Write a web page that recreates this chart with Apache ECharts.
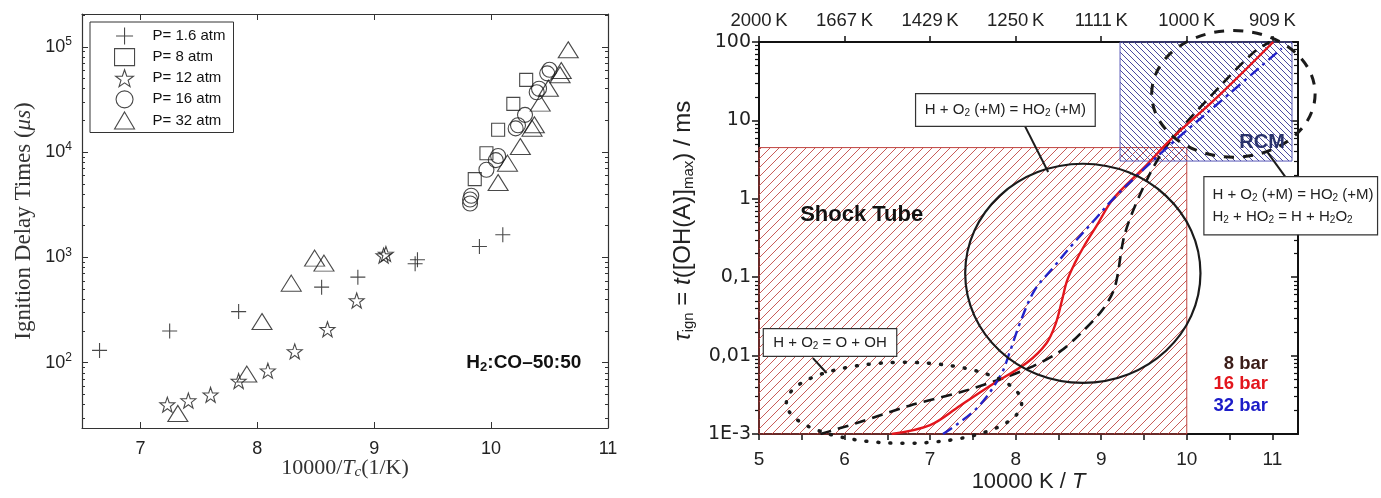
<!DOCTYPE html>
<html>
<head>
<meta charset="utf-8">
<script src="https://cdn.jsdelivr.net/npm/echarts@6/dist/echarts.min.js"></script>
<style>
  html, body { margin: 0; padding: 0; background: #fff; }
  #main { width: 1381px; height: 498px; }
</style>
</head>
<body>
<div id="main"></div>
<script>
// ---- left panel: ignition delay of H2:CO 50:50 (x = 10000/Tc, y = us) ----
const p1_6 = [[6.65, 131], [7.25, 200], [7.84, 306], [8.55, 522], [8.86, 650], [9.35, 870], [9.37, 950], [9.90, 1270], [10.10, 1640]];
const p8 = [[9.86, 5540], [9.96, 9770], [10.06, 16300], [10.19, 28700], [10.30, 48600]];
const p12 = [[7.23, 40], [7.41, 43.7], [7.60, 49.6], [7.84, 67], [8.09, 84], [8.32, 128], [8.60, 208], [8.85, 390], [9.08, 1040], [9.10, 1080]];
const p16 = [[9.82, 3250], [9.82, 3550], [9.83, 3850], [9.96, 6800], [10.04, 8400], [10.06, 9200], [10.21, 16800], [10.23, 18000], [10.29, 22600], [10.39, 37000], [10.41, 40000], [10.48, 56000], [10.50, 60500]];
const p32 = [[7.32, 33], [7.91, 78], [8.04, 246], [8.29, 570], [8.49, 985], [8.57, 883], [10.06, 5140], [10.14, 7860], [10.25, 11300], [10.35, 16900], [10.37, 18200], [10.42, 29200], [10.49, 40500], [10.59, 54200], [10.60, 59500], [10.66, 93700]];
const leftNames = ['P= 1.6 atm', 'P= 8 atm', 'P= 12 atm', 'P= 16 atm', 'P= 32 atm'];
const leftXTicks = [7, 8, 9, 10, 11];
const leftYTicks = [100, 1000, 10000, 100000];

// ---- right panel: tau_ign vs 10000 K / T (ms) ----
const bar8 = [[5.72, 0.001], [6.18, 0.00142], [6.76, 0.0023], [7.35, 0.0034], [7.82, 0.005], [8.2, 0.0073], [8.52, 0.0113], [8.77, 0.0197], [9.02, 0.039], [9.16, 0.075], [9.28, 0.37], [9.55, 1.9], [9.8, 5.3], [10.46, 33], [10.79, 75], [10.97, 100]];
const bar16 = [[6.55, 0.001], [7.0, 0.0013], [7.35, 0.0023], [7.73, 0.0043], [8.13, 0.0081], [8.36, 0.0144], [8.47, 0.026], [8.54, 0.05], [8.6, 0.09], [8.69, 0.15], [8.8, 0.25], [8.96, 0.48], [9.14, 1.0], [9.5, 2.5], [9.82, 5.8], [10.4, 22], [11.01, 100]];
const bar32 = [[7.15, 0.001], [7.54, 0.0021], [7.82, 0.0055], [7.93, 0.011], [8.05, 0.026], [8.22, 0.068], [8.44, 0.133], [8.65, 0.25], [8.91, 0.52], [9.14, 1.0], [9.5, 2.4], [9.86, 5.5], [10.5, 22], [11.11, 83]];
const shockTubeX = [5, 10];
const shockTubeY = [0.001, 4.5];
const rcmX = [9.22, 11.23];
const rcmY = [3.03, 100];
const rightXTicks = [5, 6, 7, 8, 9, 10, 11];
const rightXMinor = [5, 5.5, 6, 6.5, 7, 7.5, 8, 8.5, 9, 9.5, 10, 10.5, 11];
const topLabels = ['2000\u2009K', '1667\u2009K', '1429\u2009K', '1250\u2009K', '1111\u2009K', '1000\u2009K', '909\u2009K'];
const rightYTicks = [0.001, 0.01, 0.1, 1, 10, 100];
const rightYLabels = ['1E-3', '0,01', '0,1', '1', '10', '100'];

const ink = '#1b1b1b';

// minor log ticks 2..9 x 10^k
function logMinors(kFrom, kTo, lo, hi) {
  const out = [];
  for (let k = kFrom; k <= kTo; k++) {
    for (let m = 2; m <= 9; m++) {
      const v = +(m * Math.pow(10, k)).toPrecision(3);
      if (v >= lo && v <= hi) out.push(v);
    }
  }
  return out;
}

// diagonal hatch pattern
function hatch(size, color, dir) {
  const c = document.createElement('canvas');
  c.width = c.height = size;
  const g = c.getContext('2d');
  g.strokeStyle = color;
  g.lineWidth = 1;
  g.beginPath();
  for (let k = -1; k <= 1; k++) {
    if (dir > 0) { g.moveTo(k * size, size); g.lineTo(k * size + size, 0); }
    else { g.moveTo(k * size, 0); g.lineTo(k * size + size, size); }
  }
  g.stroke();
  return { image: c, repeat: 'repeat' };
}

const sameLog = (a, b) => Math.abs(Math.log10(a) - Math.log10(b)) < 1e-6;

const plusPath = 'path://M0,-10L0,10M-10,0L10,0';
const starPath = 'path://M0,-10L2.35,-3.24L9.51,-3.09L3.8,1.24L5.88,8.09L0,4L-5.88,8.09L-3.8,1.24L-9.51,-3.09L-2.35,-3.24Z';
const hollow = { color: 'rgba(0,0,0,0)', borderColor: ink, borderWidth: 1.1 };

const serif = 'Liberation Serif';
const sans = 'Liberation Sans';

const option = {
  animation: false,
  backgroundColor: '#fff',
  grid: [
    { left: 82, right: 773, top: 14, bottom: 70 },
    { left: 759, right: 83, top: 42, bottom: 59 }
  ],
  legend: {
    data: leftNames,
    orient: 'vertical',
    left: 90, top: 22,
    itemWidth: 20, itemHeight: 17, itemGap: 3,
    padding: [5, 8, 3, 24],
    borderColor: '#333', borderWidth: 1,
    selectedMode: false,
    itemStyle: { borderWidth: 1.1 },
    textStyle: { fontFamily: sans, fontSize: 15, color: '#111', padding: [0, 0, 0, 13] }
  },
  xAxis: [
    {
      gridIndex: 0, type: 'value', position: 'bottom', min: 6.5, max: 11,
      axisLine: { lineStyle: { color: '#333', width: 1.2 } },
      axisTick: { inside: true, length: 6, customValues: leftXTicks, lineStyle: { color: '#333' } },
      axisLabel: { customValues: leftXTicks, margin: 12, fontFamily: sans, fontSize: 18, color: '#222' },
      splitLine: { show: false },
      name: '10000/{i|T}{sub|c}(1/K)', nameLocation: 'middle', nameGap: 28, nameMoveOverlap: false,
      nameTextStyle: {
        fontFamily: serif, fontSize: 22, color: '#333',
        rich: { i: { fontFamily: serif, fontSize: 22, fontStyle: 'italic' }, sub: { fontFamily: serif, fontSize: 15, fontStyle: 'italic', padding: [9, 0, 0, 0] } }
      }
    },
    {
      gridIndex: 0, type: 'value', position: 'top', min: 6.5, max: 11,
      axisLine: { lineStyle: { color: '#333', width: 1.2 } },
      axisTick: { inside: true, length: 6, customValues: [7, 8, 9, 10], lineStyle: { color: '#333' } },
      axisLabel: { show: false },
      splitLine: { show: false }
    },
    {
      gridIndex: 1, type: 'value', position: 'bottom', min: 5, max: 11.3,
      axisLine: { lineStyle: { color: '#111', width: 2 } },
      axisTick: { length: 6, customValues: rightXMinor, lineStyle: { color: '#111', width: 1.5 } },
      axisLabel: { customValues: rightXTicks, margin: 16, fontFamily: sans, fontSize: 19, color: '#222' },
      splitLine: { show: false },
      name: '10000 K / {i|T}', nameLocation: 'middle', nameGap: 37, nameMoveOverlap: false,
      nameTextStyle: {
        fontFamily: sans, fontSize: 22, color: '#222',
        rich: { i: { fontFamily: sans, fontSize: 22, fontStyle: 'italic' } }
      }
    },
    {
      gridIndex: 1, type: 'value', position: 'top', min: 5, max: 11.3,
      axisLine: { lineStyle: { color: '#111', width: 2 } },
      axisTick: { length: 6, customValues: rightXTicks, lineStyle: { color: '#111', width: 1.5 } },
      axisLabel: {
        customValues: rightXTicks, margin: 12, fontFamily: sans, fontSize: 18.5, color: '#222',
        formatter: v => topLabels[rightXTicks.indexOf(Math.round(v))]
      },
      splitLine: { show: false }
    }
  ],
  yAxis: [
    {
      gridIndex: 0, type: 'log', position: 'left', min: 24, max: 205000,
      axisLine: { show: true, lineStyle: { color: '#333', width: 1.2 } },
      axisTick: { show: true, inside: true, length: 6, customValues: leftYTicks, lineStyle: { color: '#333' } },
      axisLabel: {
        customValues: leftYTicks, margin: 10, fontFamily: sans, fontSize: 18, color: '#222',
        formatter: v => '10{sup|' + Math.round(Math.log10(v)) + '}',
        rich: { sup: { fontFamily: sans, fontSize: 12, padding: [0, 0, 10, 0] } }
      },
      splitLine: { show: false },
      name: 'Ignition Delay Times ({i|μs})', nameLocation: 'middle', nameGap: 47, nameMoveOverlap: false,
      nameTextStyle: {
        fontFamily: serif, fontSize: 23, color: '#333',
        rich: { i: { fontFamily: serif, fontSize: 23, fontStyle: 'italic' } }
      }
    },
    {
      gridIndex: 0, type: 'log', position: 'left', min: 24, max: 205000,
      axisLine: { show: false },
      axisTick: { show: true, inside: true, length: 3, customValues: logMinors(1, 5, 24, 205000), lineStyle: { color: '#333' } },
      axisLabel: { show: false }, splitLine: { show: false }
    },
    {
      gridIndex: 0, type: 'log', position: 'right', min: 24, max: 205000,
      axisLine: { show: true, lineStyle: { color: '#333', width: 1.2 } },
      axisTick: { show: true, inside: true, length: 6, customValues: leftYTicks, lineStyle: { color: '#333' } },
      axisLabel: { show: false }, splitLine: { show: false }
    },
    {
      gridIndex: 0, type: 'log', position: 'right', min: 24, max: 205000,
      axisLine: { show: false },
      axisTick: { show: true, inside: true, length: 3, customValues: logMinors(1, 5, 24, 205000), lineStyle: { color: '#333' } },
      axisLabel: { show: false }, splitLine: { show: false }
    },
    {
      gridIndex: 1, type: 'log', position: 'left', min: 0.001, max: 100,
      axisLine: { show: true, lineStyle: { color: '#111', width: 2 } },
      axisTick: { show: true, length: 7, customValues: rightYTicks, lineStyle: { color: '#111', width: 1.5 } },
      axisLabel: {
        customValues: rightYTicks, margin: 8, fontFamily: 'DejaVu Sans', fontSize: 19, color: '#222',
        formatter: v => rightYLabels[rightYTicks.findIndex(t => sameLog(t, v))]
      },
      splitLine: { show: false },
      name: '{i|τ}{sub|ign} = {i|t}([OH(A)]{sub|max}) / ms', nameLocation: 'middle', nameGap: 63, nameMoveOverlap: false,
      nameTextStyle: {
        fontFamily: sans, fontSize: 24, color: '#222', padding: [0, 0, 0, 34],
        rich: {
          i: { fontFamily: sans, fontSize: 24, fontStyle: 'italic' },
          sub: { fontFamily: sans, fontSize: 15, padding: [11, 0, 0, 0] }
        }
      }
    },
    {
      gridIndex: 1, type: 'log', position: 'left', min: 0.001, max: 100,
      axisLine: { show: false },
      axisTick: { show: true, length: 4, customValues: logMinors(-3, 1, 0.001, 100), lineStyle: { color: '#111', width: 1.2 } },
      axisLabel: { show: false }, splitLine: { show: false }
    },
    {
      gridIndex: 1, type: 'log', position: 'right', min: 0.001, max: 100,
      axisLine: { show: true, lineStyle: { color: '#111', width: 2 } },
      axisTick: { show: true, inside: true, length: 7, customValues: rightYTicks, lineStyle: { color: '#111', width: 1.5 } },
      axisLabel: { show: false }, splitLine: { show: false }
    },
    {
      gridIndex: 1, type: 'log', position: 'right', min: 0.001, max: 100,
      axisLine: { show: false },
      axisTick: { show: true, inside: true, length: 4, customValues: logMinors(-3, 1, 0.001, 100), lineStyle: { color: '#111', width: 1.2 } },
      axisLabel: { show: false }, splitLine: { show: false }
    }
  ],
  series: [
    { name: leftNames[0], type: 'scatter', xAxisIndex: 0, yAxisIndex: 0, data: p1_6, symbol: plusPath, symbolSize: 15, itemStyle: hollow, z: 3 },
    { name: leftNames[1], type: 'scatter', xAxisIndex: 0, yAxisIndex: 0, data: p8, symbol: 'rect', symbolSize: 13, itemStyle: hollow, z: 3 },
    { name: leftNames[2], type: 'scatter', xAxisIndex: 0, yAxisIndex: 0, data: p12, symbol: starPath, symbolSize: 15, itemStyle: hollow, z: 3 },
    { name: leftNames[3], type: 'scatter', xAxisIndex: 0, yAxisIndex: 0, data: p16, symbol: 'circle', symbolSize: 15, itemStyle: hollow, z: 3 },
    { name: leftNames[4], type: 'scatter', xAxisIndex: 0, yAxisIndex: 0, data: p32, symbol: 'triangle', symbolSize: [20, 16], itemStyle: hollow, z: 3 },
    {
      type: 'line', xAxisIndex: 2, yAxisIndex: 4, data: [], silent: true,
      markArea: {
        silent: true,
        label: { show: false },
        data: [
          [
            { coord: [shockTubeX[0], shockTubeY[0]], itemStyle: { color: hatch(9, 'rgba(190,65,60,0.85)', 1), borderColor: '#c04540', borderWidth: 1 } },
            { coord: [shockTubeX[1], shockTubeY[1]] }
          ],
          [
            { coord: [rcmX[0], rcmY[0]], itemStyle: { color: hatch(6, 'rgba(55,55,150,0.9)', -1), borderColor: '#5a5ab8', borderWidth: 1 } },
            { coord: [rcmX[1], rcmY[1]] }
          ]
        ]
      }
    },
    { name: '8 bar', type: 'line', xAxisIndex: 2, yAxisIndex: 4, data: bar8, smooth: 0.3, showSymbol: false, z: 4, lineStyle: { color: '#151515', width: 2.6, type: [11, 7] } },
    { name: '16 bar', type: 'line', xAxisIndex: 2, yAxisIndex: 4, data: bar16, smooth: 0.35, showSymbol: false, z: 4, lineStyle: { color: '#e3161d', width: 2.4 } },
    { name: '32 bar', type: 'line', xAxisIndex: 2, yAxisIndex: 4, data: bar32, smooth: 0.35, showSymbol: false, z: 4, lineStyle: { color: '#2323c8', width: 2.4, type: [11, 5, 3, 5] } }
  ]
};

const chart = echarts.init(document.getElementById('main'));
chart.setOption(option);

// ---- annotations, placed in data coordinates ----
const bigCircle = { x0: 7.41, x1: 10.16, y0: 0.0045, y1: 2.8 };
const rcmEllipse = { x0: 9.59, x1: 11.5, y0: 3.4, y1: 140 };
const lowEllipse = { x0: 5.32, x1: 8.07, y0: 0.00076, y1: 0.0082 };
const boxA = { x0: 6.83, x1: 8.93, y0: 8.4, y1: 21.9 };
const boxB = { x0: 10.2, x1: 12.23, y0: 0.347, y1: 1.92 };
const boxC = { x0: 5.05, x1: 6.61, y0: 0.0098, y1: 0.0221 };
const leadA = [[8.11, 8.4], [8.38, 2.2]];
const leadB = [[11.15, 1.92], [10.94, 3.96]];
const leadC = [[5.63, 0.0093], [5.79, 0.006]];

const L = (x, y) => chart.convertToPixel({ seriesIndex: 0 }, [x, y]);
const R = (x, y) => chart.convertToPixel({ seriesIndex: 6 }, [x, y]);

function ellipse(b, style) {
  const a = R(b.x0, b.y0), c = R(b.x1, b.y1);
  return {
    type: 'ellipse', z: 50,
    shape: { cx: (a[0] + c[0]) / 2, cy: (a[1] + c[1]) / 2, rx: Math.abs(c[0] - a[0]) / 2, ry: Math.abs(c[1] - a[1]) / 2 },
    style: Object.assign({ fill: null }, style)
  };
}
function box(b) {
  const a = R(b.x0, b.y1), c = R(b.x1, b.y0);
  return { type: 'rect', z: 60, shape: { x: a[0], y: a[1], width: c[0] - a[0], height: c[1] - a[1] }, style: { fill: '#fff', stroke: '#333', lineWidth: 1.2 } };
}
function lead(seg) {
  const a = R(seg[0][0], seg[0][1]), c = R(seg[1][0], seg[1][1]);
  return { type: 'line', z: 55, shape: { x1: a[0], y1: a[1], x2: c[0], y2: c[1] }, style: { stroke: ink, lineWidth: 2 } };
}
const subRich = { sub: { fontFamily: sans, fontSize: 10, fill: '#222', padding: [7, 0, 0, 0] } };
function label(p, text, extra) {
  return {
    type: 'text', z: 70, x: p[0], y: p[1],
    style: Object.assign({ text: text, fontFamily: sans, fontSize: 15, fill: '#222', align: 'center', verticalAlign: 'middle', rich: subRich }, extra || {})
  };
}
const mid = b => R((b.x0 + b.x1) / 2, Math.sqrt(b.y0 * b.y1));

chart.setOption({
  graphic: {
    elements: [
      ellipse(bigCircle, { stroke: ink, lineWidth: 2.2 }),
      ellipse(rcmEllipse, { stroke: ink, lineWidth: 3, lineDash: [10, 9] }),
      ellipse(lowEllipse, { stroke: ink, lineWidth: 3.5, lineDash: [1, 11], lineCap: 'round' }),
      lead(leadA), lead(leadB), lead(leadC),
      box(boxA), box(boxB), box(boxC),
      label(mid(boxA), 'H + O{sub|2} (+M) = HO{sub|2} (+M)'),
      label(mid(boxC), 'H + O{sub|2} = O + OH'),
      label([R(10.3, 1)[0], mid(boxB)[1]], 'H + O{sub|2} (+M) = HO{sub|2} (+M)\nH{sub|2} + HO{sub|2} = H + H{sub|2}O{sub|2}', { align: 'left', lineHeight: 22 }),
      label(R(6.2, 0.62), 'Shock Tube', { fontSize: 22, fontWeight: 'bold', fill: '#111' }),
      label(R(10.88, 5.3), 'RCM', { fontSize: 20, fontWeight: 'bold', fill: '#2a336c' }),
      label(R(10.95, 0.0078), '8 bar', { align: 'right', fontSize: 18.5, fontWeight: 'bold', fill: '#3a1c18' }),
      label(R(10.95, 0.0044), '16 bar', { align: 'right', fontSize: 18.5, fontWeight: 'bold', fill: '#e3161d' }),
      label(R(10.95, 0.0023), '32 bar', { align: 'right', fontSize: 18.5, fontWeight: 'bold', fill: '#1c1cc8' }),
      label(L(10.28, 100), 'H{sub|2}:CO\u201350:50', {
        fontSize: 19, fontWeight: 'bold', fill: '#111',
        rich: { sub: { fontFamily: sans, fontSize: 13, fontWeight: 'bold', fill: '#111', padding: [9, 0, 0, 0] } }
      })
    ]
  }
});
</script>
</body>
</html>
